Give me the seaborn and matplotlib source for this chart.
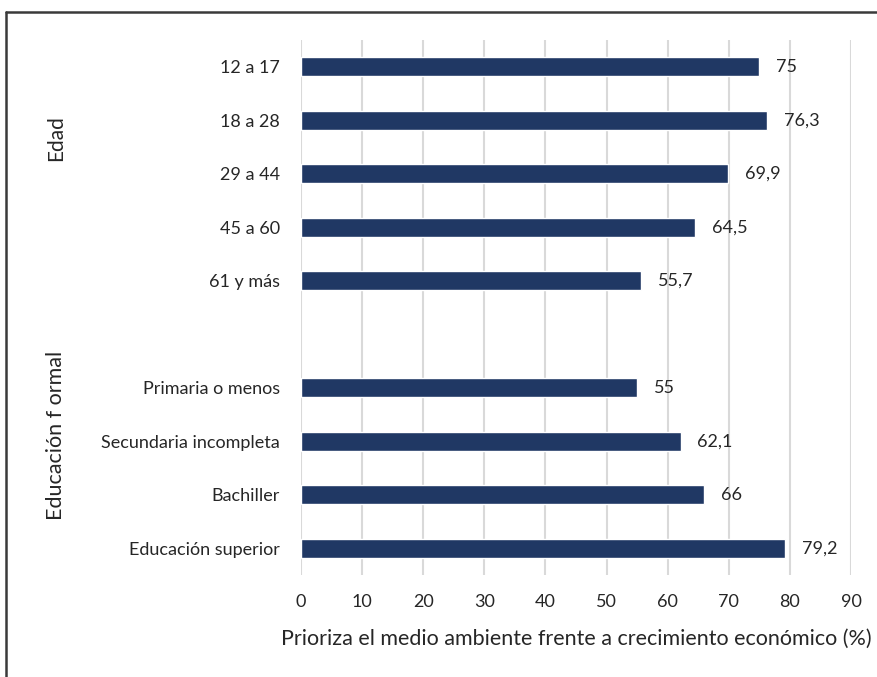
import pandas as pd
import matplotlib.pyplot as plt
import seaborn as sns
from matplotlib.lines import Line2D

# Data
edad_labels = ['12 a 17', '18 a 28', '29 a 44', '45 a 60', '61 y más']
edad_values = [75, 76.3, 69.9, 64.5, 55.7]
educ_labels = ['Primaria o menos', 'Secundaria incompleta', 'Bachiller', 'Educación superior']
educ_values = [55, 62.1, 66, 79.2]
x_ticks = [0, 10, 20, 30, 40, 50, 60, 70, 80, 90]

df = pd.DataFrame({
    'categoria': edad_labels + educ_labels,
    'valor': edad_values + educ_values,
})
# empty slot between the two groups
order = edad_labels + [' '] + educ_labels

sns.set_style('white')
plt.rcParams['font.family'] = ['Lato', 'DejaVu Sans']

fig = plt.figure(figsize=(8.78, 6.77), dpi=100)
ax = fig.add_axes([301 / 878, 1 - 575 / 677, 550 / 878, 535 / 677])

sns.barplot(data=df, y='categoria', x='valor', order=order, color='#203864',
            width=0.35, saturation=1, ax=ax)

labels = [f'{v:g}'.replace('.', ',') for v in df['valor']]
ax.bar_label(ax.containers[0], labels=labels, padding=12, fontsize=13, color='#262626')

ax.set_xlim(0, 90)
ax.set_xticks(x_ticks)
ax.tick_params(axis='both', length=0, labelsize=13, colors='#262626')
ax.tick_params(axis='y', pad=15)
ax.tick_params(axis='x', pad=14)
ax.grid(axis='x', color='#D9D9D9', linewidth=1.5)
ax.set_axisbelow(True)
for s in ax.spines.values():
    s.set_visible(False)
ax.set_ylabel('')
ax.set_xlabel('Prioriza el medio ambiente frente a crecimiento económico (%)',
              fontsize=15.5, color='#262626', labelpad=13)

# group labels
fig.text(56 / 878, 1 - 138 / 677, 'Edad', rotation=90, ha='center', va='center',
         fontsize=15, color='#262626')
fig.text(56 / 878, 1 - 435 / 677, 'Educación f ormal', rotation=90, ha='center',
         va='center', fontsize=15.5, color='#262626')

# outer frame (left and top edges)
fig.add_artist(Line2D([6 / 878, 6 / 878], [0, 1 - 12 / 677], color='#3a3a3a', linewidth=1.8))
fig.add_artist(Line2D([6 / 878, 1], [1 - 12 / 677, 1 - 12 / 677], color='#3a3a3a', linewidth=1.8))

plt.savefig('out.png', dpi=100)
plt.close()
